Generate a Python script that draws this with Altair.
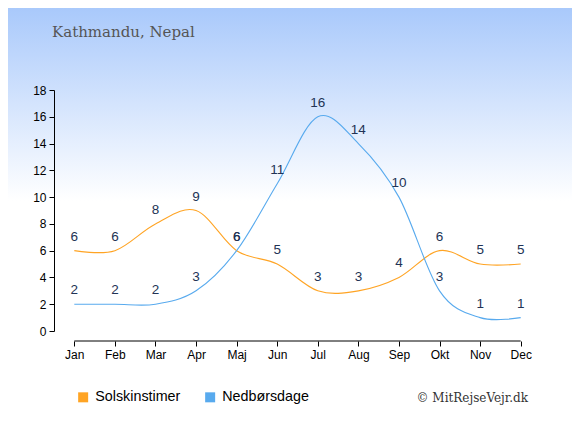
import altair as alt
import pandas as pd

months = ["Jan", "Feb", "Mar", "Apr", "Maj", "Jun", "Jul", "Aug", "Sep", "Okt", "Nov", "Dec"]
sun = [6, 6, 8, 9, 6, 5, 3, 3, 4, 6, 5, 5]
rain = [2, 2, 2, 3, 6, 11, 16, 14, 10, 3, 1, 1]
series = ["Solskinstimer", "Nedbørsdage"]
line_colors = ["#ffa424", "#58aaee"]
title = "Kathmandu, Nepal"
credit = "© MitRejseVejr.dk"
yticks = [0, 2, 4, 6, 8, 10, 12, 14, 16, 18]

rows = []
for m, v in zip(months, sun):
    rows.append({"month": m, "value": v, "series": series[0]})
for m, v in zip(months, rain):
    rows.append({"month": m, "value": v, "series": series[1]})
df = pd.DataFrame(rows)

W, H = 487, 241
PL, PT, PR, PB = 46, 82, 31, 96
FONT = "Liberation Sans"

one = pd.DataFrame({"a": [0]})

bg = alt.Chart(one).mark_rect(
    color={"gradient": "linear", "x1": 0, "y1": 0, "x2": 0, "y2": 1,
           "stops": [{"offset": 0, "color": "#a9c9fb"},
                     {"offset": 0.46, "color": "#ffffff"},
                     {"offset": 1, "color": "#ffffff"}]}
).encode(x=alt.value(-PL), x2=alt.value(W + PR), y=alt.value(-PT), y2=alt.value(H + PB))

x_enc = alt.X("month:N", scale=alt.Scale(domain=months, type="point", padding=0.5),
              axis=alt.Axis(title=None, domain=False, offset=10, tickSize=5, tickColor="black",
                            labelAngle=0, labelFont=FONT, labelFontSize=12, labelColor="black",
                            labelPadding=3, labelOverlap=False, zindex=2))
y_enc = alt.Y("value:Q", scale=alt.Scale(domain=[0, 18], nice=False, zero=True),
              axis=alt.Axis(title=None, values=yticks, grid=False,
                            domainColor="black", tickColor="black", tickSize=5,
                            labelFont=FONT, labelFontSize=12, labelColor="black", labelPadding=3,
                            labelOverlap=False, zindex=2))

color_line = alt.Color(
    "series:N", scale=alt.Scale(domain=series, range=line_colors),
    legend=alt.Legend(title=None, orient="none", legendX=22, legendY=300,
                      direction="horizontal", symbolType="square", symbolSize=25,
                      symbolStrokeWidth=5, labelFont=FONT, labelFontSize=14.3,
                      labelColor="black", columnPadding=16, labelOffset=5,
                      padding=0, zindex=2, symbolOpacity=1),
)

lines = alt.Chart(df).mark_line(interpolate="cardinal", strokeWidth=1.1).encode(
    x=x_enc, y=y_enc, color=color_line, detail="series:N"
)

labels = alt.Chart(df).mark_text(font=FONT, fontSize=13.5, color="#223355", dy=-14).encode(
    x=x_enc, y=y_enc, text="value:Q",
)

xrule = alt.Chart(one).mark_rule(color="black", strokeWidth=1).encode(
    x=alt.datum("Jan"), x2=alt.datum("Dec"), y=alt.value(H + 10)
)

title_txt = alt.Chart(pd.DataFrame({"t": [title]})).mark_text(
    font="DejaVu Serif", fontSize=15, color="#555555", align="left", baseline="alphabetic"
).encode(x=alt.value(-2), y=alt.value(-53), text="t:N")

credit_txt = alt.Chart(pd.DataFrame({"t": [credit]})).mark_text(
    font="DejaVu Serif", fontSize=12, color="#333333", align="right", baseline="middle"
).encode(x=alt.value(474), y=alt.value(308), text="t:N")

chart = alt.layer(bg, lines, labels, xrule, title_txt, credit_txt).properties(
    width=W, height=H,
    autosize=alt.AutoSizeParams(type="none"),
    padding={"left": PL, "top": PT, "right": PR, "bottom": PB},
    background="white",
).configure_view(stroke=None).configure_axis(labelOverlap=False)

chart.save("out.html", embed_options={"renderer": "svg", "actions": False})
